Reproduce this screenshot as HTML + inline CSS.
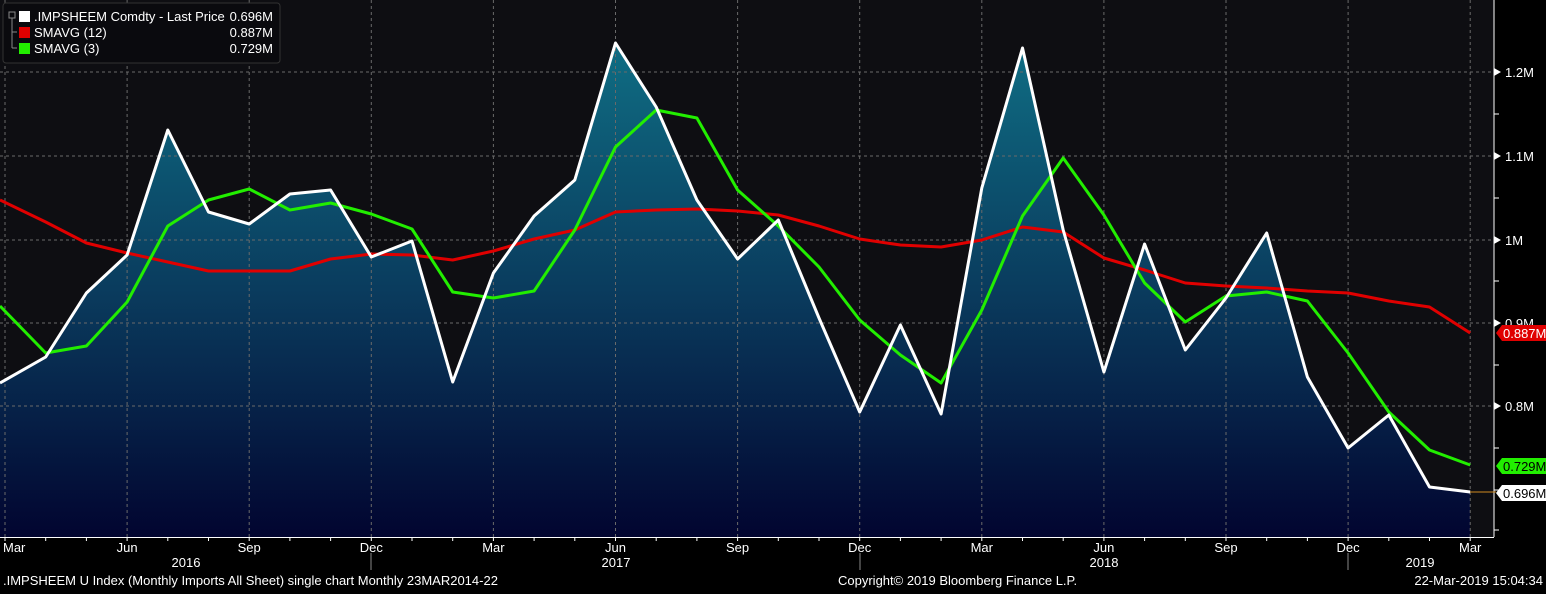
<!DOCTYPE html><html><head><style>
body{margin:0;background:#000;width:1546px;height:589px;overflow:hidden;font-family:"Liberation Sans",sans-serif}
</style></head><body>
<svg id="s" width="1546" height="589" xmlns="http://www.w3.org/2000/svg" font-family="Liberation Sans, sans-serif">
<defs><linearGradient id="g" x1="0" y1="40" x2="0" y2="537" gradientUnits="userSpaceOnUse">
<stop offset="0" stop-color="#0f6e84"/><stop offset="0.5" stop-color="#0a3c5e"/><stop offset="1" stop-color="#020530"/></linearGradient></defs>
<rect x="0" y="0" width="1494" height="537" fill="#0e0e12"/>
<path id="area" fill="url(#g)"/>
<g id="grid" stroke="#6a6a6a" stroke-dasharray="3,3" stroke-width="1"></g>
<g id="lines" fill="none" stroke-width="3" stroke-linejoin="round"></g>
<line x1="1494" y1="0" x2="1494" y2="537" stroke="#fff"/>
<line x1="0" y1="537.5" x2="1494" y2="537.5" stroke="#fff"/>
<g id="ax" fill="#fff" font-size="13"></g>
<line x1="1470" y1="492" x2="1496" y2="492" stroke="#d08a20"/>
<path d="M1496 333 l6 -8 h44 v16 h-44z" fill="#e00000"/><text x="1503" y="338" fill="#fff" font-size="13">0.887M</text>
<path d="M1496 466 l6 -8 h44 v16 h-44z" fill="#22ee00"/><text x="1503" y="471" fill="#000" font-size="13">0.729M</text>
<path d="M1496 493 l6 -8 h44 v16 h-44z" fill="#fff"/><text x="1503" y="498" fill="#000" font-size="13">0.696M</text>
<rect x="3" y="3" width="277" height="60" rx="3" fill="#0a0a0e" stroke="#333"/>
<rect x="9" y="12" width="6" height="6" fill="none" stroke="#888"/><line x1="12" y1="18" x2="12" y2="48" stroke="#888"/>
<line x1="12" y1="32" x2="17" y2="32" stroke="#888"/><line x1="12" y1="48" x2="17" y2="48" stroke="#888"/>
<rect x="19" y="11" width="11" height="11" fill="#fff"/><rect x="19" y="27" width="11" height="11" fill="#e00000"/><rect x="19" y="43" width="11" height="11" fill="#22ee00"/>
<g fill="#fff" font-size="13"><text x="34" y="21">.IMPSHEEM Comdty - Last Price</text><text x="34" y="37">SMAVG (12)</text><text x="34" y="53">SMAVG (3)</text>
<text x="273" y="21" text-anchor="end">0.696M</text><text x="273" y="37" text-anchor="end">0.887M</text><text x="273" y="53" text-anchor="end">0.729M</text></g>
<g fill="#fff" font-size="13"><text x="3" y="585">.IMPSHEEM U Index (Monthly Imports All Sheet) single chart  Monthly 23MAR2014-22</text>
<text x="838" y="585">Copyright© 2019 Bloomberg Finance L.P.</text><text x="1543" y="585" text-anchor="end">22-Mar-2019 15:04:34</text></g>
</svg>
<script>
var W=[383,357,293,255,130,212,224,194,190,257,241,382,273,216,180,43,107,200,259,220,318,412,325,414,188,48,230,372,244,350,298,233,377,448,415,487,492];
var R=[200,222,243,253,262,271,271,271,259,254,255,260,251,239,230,212,210,209,211,215,226,239,245,247,240,227,232,258,270,283,286,288,291,293,301,307,333];
var G=[306,353,346,302,226,200,189,210,203,214,229,292,298,291,230,147,110,118,190,226,267,320,355,383,310,216,158,215,283,322,296,292,301,353,412,450,465];
function X(i){return 5+i*40.7}
function pts(a){return a.map(function(y,i){return (i==0?0:X(i)).toFixed(1)+','+y}).join(' ')}
var ns="http://www.w3.org/2000/svg";
function el(p,t,at,tx){var e=document.createElementNS(ns,t);for(var k in at)e.setAttribute(k,at[k]);if(tx)e.textContent=tx;document.getElementById(p).appendChild(e);return e}
document.getElementById('area').setAttribute('d','M0,537 L'+pts(W).replace(/ /g,' L')+' L1470,537Z');
el('lines','polyline',{points:pts(R),stroke:'#e00000'});
el('lines','polyline',{points:pts(G),stroke:'#22ee00'});
el('lines','polyline',{points:pts(W),stroke:'#fff'});
var yl=[[72,'1.2M'],[156,'1.1M'],[240,'1M'],[323,'0.9M'],[406,'0.8M']];
yl.forEach(function(a){el('grid','line',{x1:0,x2:1494,y1:a[0],y2:a[0]});el('ax','text',{x:1505,y:a[0]+5},a[1]);el('ax','path',{d:'M1494 '+(a[0]-4)+' l7 4 l-7 4z'})});
[114,198,281,365,448,490,530].forEach(function(y){el('ax','line',{x1:1494,x2:1499,y1:y,y2:y,stroke:'#fff'})});
var ml=['Mar','Jun','Sep','Dec'];
for(var i=0;i<37;i++){var x=X(i);el('ax','line',{x1:x,x2:x,y1:537,y2:541,stroke:'#fff'});
if(i%3==0){el('grid','line',{x1:x,x2:x,y1:0,y2:537});el('ax','text',{x:i==0?3:x,y:552,'text-anchor':i==0?'start':'middle'},ml[(i/3)%4]);}}
[[186,'2016'],[616,'2017'],[1104,'2018'],[1420,'2019']].forEach(function(a){el('ax','text',{x:a[0],y:567,'text-anchor':'middle'},a[1])});
[371,860,1348].forEach(function(x){el('ax','line',{x1:x,x2:x,y1:553,y2:570,stroke:'#888'})});
</script>
</body></html>
